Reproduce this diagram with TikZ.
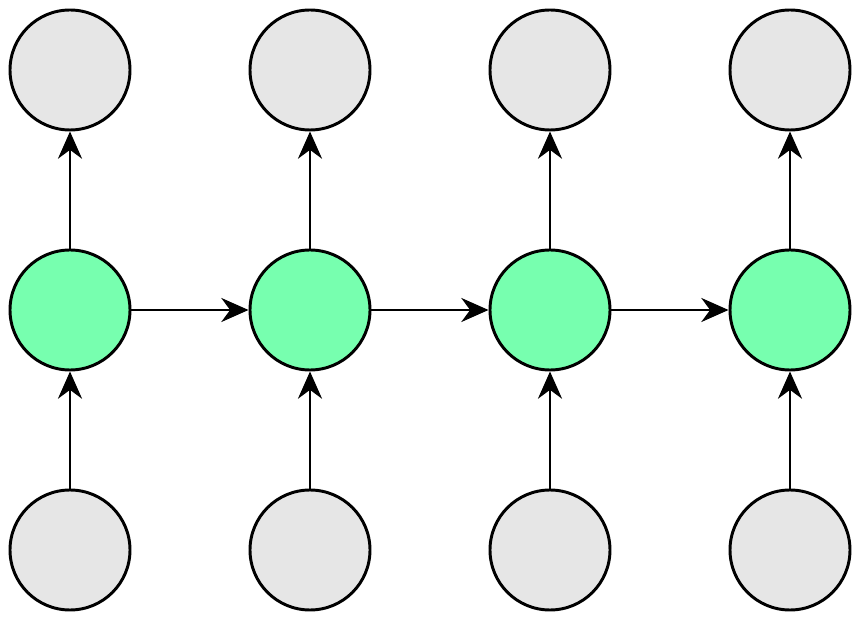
\documentclass[tikz,border=0pt]{standalone}
\usepackage{tikz}
\usetikzlibrary{positioning,arrows.meta}

\definecolor{hidgreen}{HTML}{77FFAF}
\definecolor{iogray}{HTML}{E6E6E6}

\tikzset{
	unit/.style={circle, draw=black, line width=2.1pt, minimum size=3cm, inner sep=0pt},
	hidden/.style={unit, fill=hidgreen},
	io/.style={unit, fill=iogray},
	link/.style={line width=2.1pt, -{Stealth[length=0.68cm, width=0.6cm, inset=0.22cm]}}
}

\begin{document}
\begin{tikzpicture}

				\useasboundingbox (0, 0) rectangle (21.525, 15.525);

				\node[io] (y1) at (1.75, 13.775)  {};
				\node[io] (y2) at (7.75, 13.775)  {};
				\node[io] (y3) at (13.75, 13.775) {};
				\node[io] (y4) at (19.75, 13.775) {};

				\node[hidden] (h1) at (1.75, 7.775)  {};
				\node[hidden] (h2) at (7.75, 7.775)  {};
				\node[hidden] (h3) at (13.75, 7.775) {};
				\node[hidden] (h4) at (19.75, 7.775) {};

				\node[io] (x1) at (1.75, 1.775)  {};
				\node[io] (x2) at (7.75, 1.775)  {};
				\node[io] (x3) at (13.75, 1.775) {};
				\node[io] (x4) at (19.75, 1.775) {};

				\draw [link] (x1) -- (h1);
				\draw [link] (x2) -- (h2);
				\draw [link] (x3) -- (h3);
				\draw [link] (x4) -- (h4);

				\draw [link] (h1) -- (y1);
				\draw [link] (h2) -- (y2);
				\draw [link] (h3) -- (y3);
				\draw [link] (h4) -- (y4);

				\draw [link] (h1) -- (h2);
				\draw [link] (h2) -- (h3);
				\draw [link] (h3) -- (h4);

			\end{tikzpicture}
\end{document}
